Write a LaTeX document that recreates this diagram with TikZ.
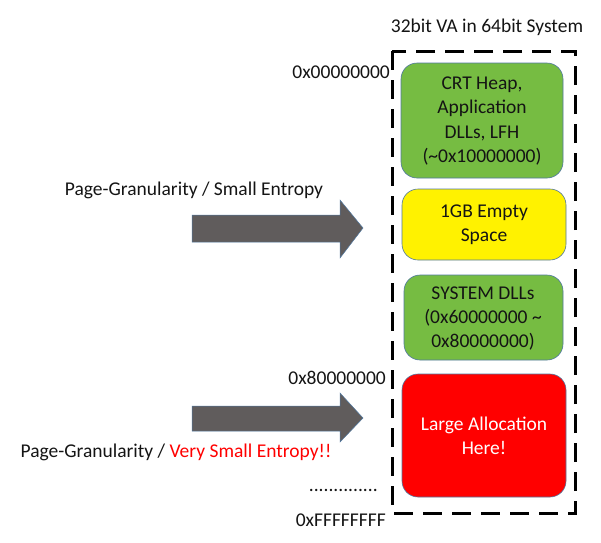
\documentclass[tikz,border=0pt]{standalone}
\usepackage{fontspec}
\setmainfont{Carlito}
\usetikzlibrary{shapes.arrows}
\definecolor{boxgreen}{RGB}{118,188,66}
\definecolor{edgeblue}{RGB}{80,120,160}
\definecolor{arrowgray}{RGB}{96,92,92}
\definecolor{txt}{RGB}{20,20,20}
\tikzset{
  region/.style={draw=edgeblue, line width=0.6pt, rounded corners=16pt},
  lbl/.style={font=\fontsize{19.5}{24}\selectfont, inner sep=0pt, text=txt},
  bigarrow/.style={fill=arrowgray, draw=edgeblue, line width=0.5pt},
}
\begin{document}
\begin{tikzpicture}[x=1pt,y=-1pt]
\useasboundingbox (0,0) rectangle (601,542);
% outer dashed frame
\draw[line width=3pt, dash pattern=on 19pt off 10pt] (392,51) rectangle (575,513);
\node[lbl] (title) at (487,27) {32bit VA in 64bit System};
% regions
\path[region, fill=boxgreen] (401,63) rectangle (563,178);
\node[lbl, align=center, font=\fontsize{19.5}{24.5}\selectfont] (crt) at (482,121) {CRT Heap,\\Application\\DLLs, LFH\\(\textasciitilde0x10000000)};
\path[region, fill=yellow] (402,189) rectangle (566,260);
\node[lbl, align=center, font=\fontsize{19.5}{24}\selectfont] (empty) at (484,225) {1GB Empty\\Space};
\path[region, fill=boxgreen] (404,275) rectangle (563,360);
\node[lbl, align=center, font=\fontsize{19.5}{24}\selectfont] (sys) at (483,319) {SYSTEM DLLs\\(0x60000000 \textasciitilde\\0x80000000)};
\path[region, fill=red] (402,374) rectangle (566,497);
\node[lbl, align=center, text=white, font=\fontsize{19.5}{24}\selectfont] (large) at (484,436) {Large Allocation\\Here!};
% address labels
\node[lbl, anchor=east] (a0) at (390,72) {0x00000000};
\node[lbl, anchor=east] (a8) at (386,378) {0x80000000};
\node[lbl, anchor=east] (dots) at (378,490) {..............};
\node[lbl, anchor=east] (af) at (386,520) {0xFFFFFFFF};
% arrows
\path[bigarrow] (192,215) -- (340,215) -- (340,200) -- (363,228) -- (340,258) -- (340,242) -- (192,242) -- cycle;
\path[bigarrow] (192,406) -- (340,406) -- (340,393) -- (363,418) -- (340,442) -- (340,431) -- (192,431) -- cycle;
\node[lbl] (t1) at (194,190) {Page-Granularity / Small Entropy};
\node[lbl] (t2) at (176,452) {Page-Granularity / \textcolor{red}{Very Small Entropy!!}};
\end{tikzpicture}
\end{document}
